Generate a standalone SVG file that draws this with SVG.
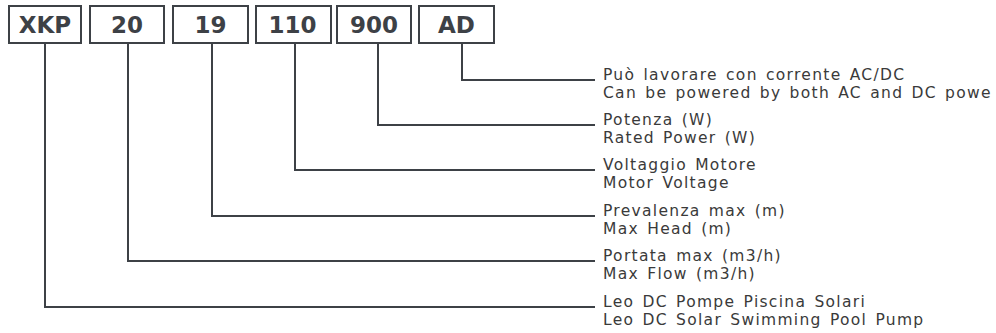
<svg xmlns="http://www.w3.org/2000/svg" width="996" height="333" viewBox="0 0 996 333">
<style>
.box{fill:#ffffff;stroke:#3d4146;stroke-width:2}
.code{font-family:"DejaVu Sans",sans-serif;font-weight:bold;font-size:23px;fill:#3d4146;text-anchor:middle}
.lbl{font-family:"DejaVu Sans",sans-serif;font-size:15.5px;letter-spacing:1.3px;word-spacing:2px;fill:#3a3a3a}
.conn{fill:none;stroke:#3d4146;stroke-width:2}
</style>
<rect width="996" height="333" fill="#ffffff"/>
<g id="connectors">
<polyline class="conn" points="45,43 45,307 595,307"/>
<polyline class="conn" points="128,43 128,261 595,261"/>
<polyline class="conn" points="212,43 212,216 595,216"/>
<polyline class="conn" points="295,43 295,170 595,170"/>
<polyline class="conn" points="378,43 378,125 595,125"/>
<polyline class="conn" points="462,43 462,80 595,80"/>
</g>
<g id="node-xkp"><rect class="box" x="9" y="6" width="72" height="37"/><text class="code" x="45" y="33">XKP</text></g>
<g id="node-20"><rect class="box" x="90" y="6" width="74" height="37"/><text class="code" x="127" y="33">20</text></g>
<g id="node-19"><rect class="box" x="173" y="6" width="75" height="37"/><text class="code" x="210.5" y="33">19</text></g>
<g id="node-110"><rect class="box" x="256" y="6" width="75" height="37"/><text class="code" x="292.5" y="33">110</text></g>
<g id="node-900"><rect class="box" x="337" y="6" width="74" height="37"/><text class="code" x="374" y="33">900</text></g>
<g id="node-ad"><rect class="box" x="419" y="6" width="75" height="37"/><text class="code" x="456.5" y="33">AD</text></g>
<g id="label-ad"><text class="lbl" x="603" y="80">Può lavorare con corrente AC/DC</text><text class="lbl" x="603" y="98">Can be powered by both AC and DC powe</text></g>
<g id="label-900"><text class="lbl" x="603" y="125">Potenza (W)</text><text class="lbl" x="603" y="143">Rated Power (W)</text></g>
<g id="label-110"><text class="lbl" x="603" y="170">Voltaggio Motore</text><text class="lbl" x="603" y="188">Motor Voltage</text></g>
<g id="label-19"><text class="lbl" x="603" y="216">Prevalenza max (m)</text><text class="lbl" x="603" y="234">Max Head (m)</text></g>
<g id="label-20"><text class="lbl" x="603" y="261">Portata max (m3/h)</text><text class="lbl" x="603" y="279">Max Flow (m3/h)</text></g>
<g id="label-xkp"><text class="lbl" x="603" y="307">Leo DC Pompe Piscina Solari</text><text class="lbl" x="603" y="325">Leo DC Solar Swimming Pool Pump</text></g>
</svg>
